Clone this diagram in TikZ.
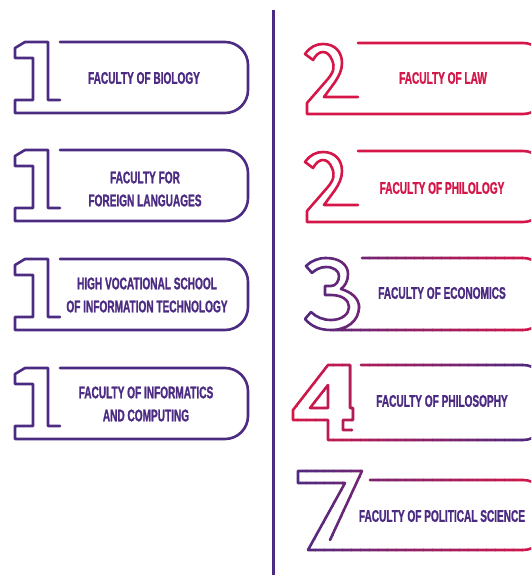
\documentclass[tikz,border=0pt]{standalone}
\usepackage{fontspec}
\newfontfamily\condfont{Liberation Sans}[FakeStretch=0.6, FakeBold=1.2]

\definecolor{purp}{RGB}{76,43,130}
\definecolor{crim}{RGB}{213,22,72}

\tikzset{
  facline/.style={line width=2.6pt, line join=round, line cap=round},
  factext/.style={font=\condfont\bfseries\fontsize{16.8}{23}\selectfont, text=purp, align=center, inner sep=0pt}
}

% outline of a "1" with its box, y measured from the top of the box
\def\onepath{(60,0) -- (225,0) arc[start angle=-90,end angle=0,radius=23] -- (248,48) arc[start angle=0,end angle=90,radius=23] -- (15,71) -- (15,58) -- (33,58) -- (33,16) -- (15,16) -- (15,6) -- (25,0) -- (48,0) -- (48,58) -- (60,58)}

% outline of a "2" with its box
\def\twopath{(358,0) -- (523,0) arc[start angle=-90,end angle=0,radius=23] -- (546,48) arc[start angle=0,end angle=90,radius=23] -- (307,71) -- (307,60) -- (327,37) .. controls (334,29) and (335,24) .. (332,17) .. controls (330,12) and (327,9) .. (323,9) .. controls (319,9) and (316,12) .. (313,17) -- (305,11) .. controls (310,4) and (316,1) .. (323,1) .. controls (335,1) and (342,9) .. (342,20) .. controls (342,27) and (339,33) .. (335,39) -- (324,54) -- (358,54)}

% the 3, 4 and 7 at their own place
\def\threepath{(362,258) -- (523,258) arc[start angle=-90,end angle=0,radius=23] -- (546,307) arc[start angle=0,end angle=90,radius=23] -- (331,330) .. controls (319,330) and (311,326) .. (305,319) -- (311,312) .. controls (316,317) and (323,320) .. (331,320) .. controls (342,320) and (349,314) .. (349,307) .. controls (349,300) and (342,295) .. (331,295) -- (325,295) -- (325,286) -- (331,286) .. controls (336,286) and (339,281) .. (339,276) .. controls (339,271) and (334,267) .. (326,267) .. controls (320,267) and (315,270) .. (312,273) -- (306,266) .. controls (311,261) and (318,258) .. (326,258) .. controls (340,258) and (348,265) .. (348,274) .. controls (348,281) and (345,286) .. (341,289) .. controls (351,292) and (359,298) .. (359,307) .. controls (359,321) and (347,330) .. (331,330)}

\def\fourpath{(361,365) -- (523,365) arc[start angle=-90,end angle=0,radius=23] -- (546,417) arc[start angle=0,end angle=90,radius=23] -- (328,440) -- (328,420) -- (293,420) -- (293,410) -- (328,365) -- (350,365) -- (350,408) -- (353,408) -- (353,420) -- (343,420) -- (343,430) -- (352,430) (328,385) -- (310,408) -- (328,408) -- cycle}

\def\sevenpath{(370,480) -- (523,480) arc[start angle=-90,end angle=0,radius=23] -- (546,527) arc[start angle=0,end angle=90,radius=23] -- (308,550) -- (345,483) -- (298,483) -- (298,471) -- (362,471) -- (330,540)}

% stroke a path with a left-to-right colour change
\newcommand{\gradstroke}[3]{%
  \foreach \k in {0,...,27}{%
    \pgfmathsetmacro{\mix}{100-\k*100/27}%
    \begin{scope}
      \clip (288+\k*9,0) rectangle (297.5+\k*9,575);
      \draw[facline, draw=#1!\mix!#2] #3;
    \end{scope}}}

\begin{document}
\begin{tikzpicture}[x=1pt, y=-1pt]

  \path[use as bounding box] (0,0) rectangle (531,575);
  \clip (0,0) rectangle (531,575);

  % Draw the dividing line
  \draw[purp, line width=3pt] (273,10) -- (273,575);

  % Left column
  \foreach \t in {42,150,259,368}{
    \draw[facline, purp, shift={(0,\t)}] \onepath;
  }

  \node[factext] (biology) at (144,78) {FACULTY OF BIOLOGY};
  \node[factext] (languages) at (145,189) {FACULTY FOR\\FOREIGN LANGUAGES};
  \node[factext] (vocational) at (147,295) {HIGH VOCATIONAL SCHOOL\\OF INFORMATION TECHNOLOGY};
  \node[factext] (informatics) at (146,404) {FACULTY OF INFORMATICS\\AND COMPUTING};

  % Right column
  \draw[facline, crim, shift={(0,43)}] \twopath;
  \draw[facline, crim, shift={(0,151)}] \twopath;
  \gradstroke{purp}{crim}{\threepath}
  \gradstroke{crim}{purp}{\fourpath}
  \gradstroke{purp}{crim}{\sevenpath}

  \node[factext, text=crim] (law) at (443,78) {FACULTY OF LAW};
  \node[factext, text=crim] (philology) at (442,188) {FACULTY OF PHILOLOGY};
  \node[factext] (economics) at (442,293) {FACULTY OF ECONOMICS};
  \node[factext] (philosophy) at (442,401) {FACULTY OF PHILOSOPHY};
  \node[factext] (political) at (442,516) {FACULTY OF POLITICAL SCIENCE};

\end{tikzpicture}
\end{document}
